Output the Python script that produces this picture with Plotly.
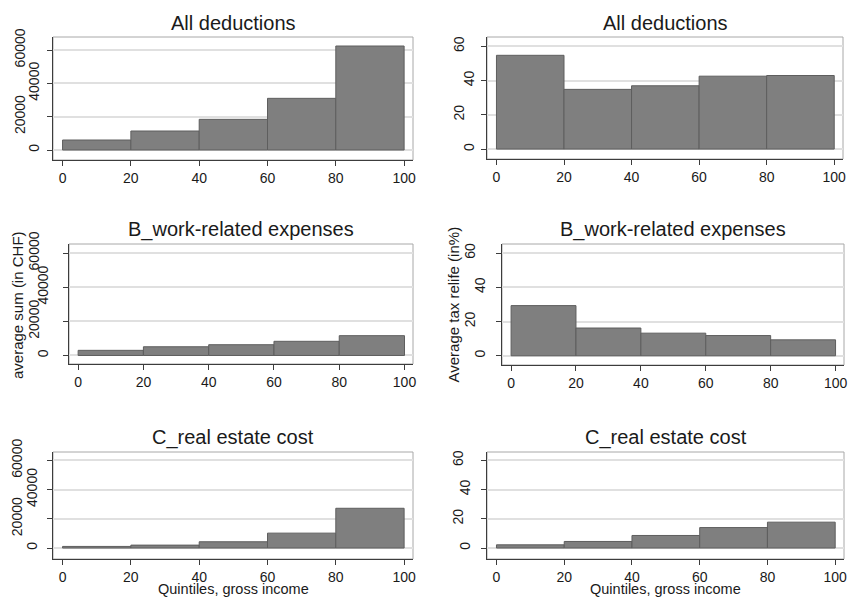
import plotly.graph_objects as go

# Income quintile bins (percentiles of gross income)
quintile_edges = [0, 20, 40, 60, 80, 100]

# Average deduction sum per quintile (CHF)
all_sum = [6000, 11400, 18400, 31000, 62400]
work_sum = [3000, 5100, 6300, 8300, 11600]
real_sum = [1100, 2000, 4300, 10200, 27200]

# Average tax relief per quintile (%)
all_pct = [54.8, 34.9, 37.0, 42.6, 43.0]
work_pct = [29.3, 16.2, 13.2, 11.8, 9.3]
real_pct = [2.2, 4.5, 8.6, 14.0, 17.7]

# Axis ticks
x_ticks = [0, 20, 40, 60, 80, 100]
sum_ticks = [0, 20000, 40000, 60000]
pct_ticks = [0, 20, 40, 60]

titles = ["All deductions", "All deductions",
          "B_work-related expenses", "B_work-related expenses",
          "C_real estate cost", "C_real estate cost"]
series = [all_sum, all_pct, work_sum, work_pct, real_sum, real_pct]
y_title_sum = "average sum (in CHF)"
y_title_pct = "Average tax relife (in%)"
x_title = "Quintiles, gross income"

W, H = 850, 597
FONT = "Liberation Sans, Arial, sans-serif"
TXT = "#1a1a1a"

# Panel geometry in pixels: (left, right, top, bottom), y-range, label offsets
panels = [
    dict(box=(53, 413, 37, 160), yr=(-6000, 67800), ticks=sum_ticks, near=2, far=16),
    dict(box=(487, 843, 37, 159), yr=(-5.8, 65.5), ticks=pct_ticks, near=1, far=11),
    dict(box=(69, 413, 244, 364), yr=(-5000, 65300), ticks=sum_ticks, near=9, far=18),
    dict(box=(502, 844, 244, 365), yr=(-5.4, 65.3), ticks=pct_ticks, near=5, far=15),
    dict(box=(53, 413, 452, 559), yr=(-7500, 65700), ticks=sum_ticks, near=4, far=19),
    dict(box=(487, 844, 452, 559), yr=(-7.5, 65.7), ticks=pct_ticks, near=5, far=12),
]

centers = [(a + b) / 2 for a, b in zip(quintile_edges[:-1], quintile_edges[1:])]
widths = [b - a for a, b in zip(quintile_edges[:-1], quintile_edges[1:])]


def suffix(n):
    return "" if n == 1 else str(n)


fig = go.Figure()
layout = dict(
    width=W, height=H,
    margin=dict(l=0, r=0, t=0, b=0, autoexpand=False),
    paper_bgcolor="white", plot_bgcolor="white",
    showlegend=False,
    font=dict(family=FONT, color=TXT, size=14),
)
shapes = []
annotations = []

for i, (p, vals, title) in enumerate(zip(panels, series, titles), start=1):
    l, r, t, b = p["box"]
    xd = [l / W, r / W]
    yd = [1 - b / H, 1 - t / H]
    xa = "x" + suffix(i)
    ya = "y" + suffix(i)
    ya_alt = "y" + str(i + 6)
    fig.add_trace(go.Bar(
        x=centers, y=vals, width=widths,
        marker=dict(color="#7f7f7f", line=dict(color="#5e5e5e", width=1)),
        xaxis=xa, yaxis=ya, hoverinfo="x+y",
    ))
    # empty trace so the alternate label axis gets drawn
    fig.add_trace(go.Scatter(
        x=[], y=[], xaxis=xa, yaxis=ya_alt, mode="markers",
        hoverinfo="skip", showlegend=False,
    ))
    layout["xaxis" + suffix(i)] = dict(
        domain=xd, anchor=ya, range=[-2.8, 102.6], automargin=False,
        tickvals=x_ticks, ticktext=[str(v) for v in x_ticks],
        ticks="outside", ticklen=5, tickwidth=1, tickcolor="#3c3c3c",
        showline=True, linecolor="#3c3c3c", linewidth=1,
        showgrid=False, zeroline=False,
        tickfont=dict(size=14, family=FONT, color=TXT),
    )
    tv = p["ticks"]
    near_text = [str(v) if k % 2 == 0 else "" for k, v in enumerate(tv)]
    layout["yaxis" + suffix(i)] = dict(
        domain=yd, anchor=xa, range=list(p["yr"]), automargin=False,
        tickvals=tv, ticktext=near_text, tickangle=-90,
        ticks="outside", ticklen=5, tickwidth=1, tickcolor="#3c3c3c",
        showline=True, linecolor="#3c3c3c", linewidth=1,
        showgrid=True, gridcolor="#e0e0e0", gridwidth=1.5, zeroline=False,
        ticklabelstandoff=p["near"],
        tickfont=dict(size=14, family=FONT, color=TXT),
    )
    # second label column for alternating tick labels
    far_vals = [v for k, v in enumerate(tv) if k % 2 == 1]
    layout["yaxis" + str(i + 6)] = dict(
        overlaying=ya, anchor=xa, side="left", range=list(p["yr"]), automargin=False,
        tickvals=far_vals, ticktext=[str(v) for v in far_vals], tickangle=-90,
        ticks="outside", ticklen=5, tickwidth=1, tickcolor="#3c3c3c",
        showline=False, showgrid=False, zeroline=False,
        ticklabelstandoff=p["far"],
        tickfont=dict(size=14, family=FONT, color=TXT),
    )
    # plot region outline
    shapes.append(dict(
        type="rect", xref=xa + " domain", yref=ya + " domain",
        x0=0, x1=1, y0=0, y1=1, layer="below",
        line=dict(color="#a8a8a8", width=1),
    ))
    annotations.append(dict(
        text=title, x=(l + r) / 2 / W, y=1 - (t - 1) / H,
        xref="paper", yref="paper", xanchor="center", yanchor="bottom",
        showarrow=False, font=dict(size=20, family=FONT, color=TXT),
    ))

# axis titles
for i in (5, 6):
    l, r, t, b = panels[i - 1]["box"]
    annotations.append(dict(
        text=x_title, x=(l + r) / 2 / W, y=1 - 589 / H,
        xref="paper", yref="paper", xanchor="center", yanchor="middle",
        showarrow=False, font=dict(size=14.5, family=FONT, color=TXT),
    ))
annotations.append(dict(
    text=y_title_sum, x=17 / W, y=1 - 305 / H, textangle=-90,
    xref="paper", yref="paper", xanchor="center", yanchor="middle",
    showarrow=False, font=dict(size=15, family=FONT, color=TXT),
))
annotations.append(dict(
    text=y_title_pct, x=452.5 / W, y=1 - 305 / H, textangle=-90,
    xref="paper", yref="paper", xanchor="center", yanchor="middle",
    showarrow=False, font=dict(size=15, family=FONT, color=TXT),
))

layout["shapes"] = shapes
layout["annotations"] = annotations
fig.update_layout(**layout)
fig.write_html("out.html")
